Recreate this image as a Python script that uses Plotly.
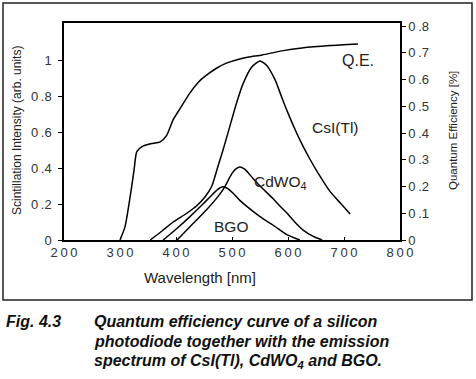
import plotly.graph_objects as go

# ---- data ----
qe_wl = [300, 309, 318, 325, 330, 340, 355, 372, 383, 395, 407, 425, 440, 455, 473, 491, 514, 530, 554, 589, 625, 675, 725]
qe_val = [0.0, 0.05, 0.16, 0.26, 0.33, 0.35, 0.36, 0.367, 0.39, 0.45, 0.49, 0.55, 0.59, 0.617, 0.643, 0.662, 0.677, 0.684, 0.692, 0.707, 0.718, 0.727, 0.733]

csi_wl = [354, 375, 395, 420, 437, 452, 464, 475, 484, 496, 508, 520, 535, 550, 562, 577, 588, 598, 616, 627, 639, 654, 675, 695, 711]
csi_val = [0.0, 0.05, 0.10, 0.15, 0.19, 0.24, 0.30, 0.41, 0.50, 0.63, 0.76, 0.87, 0.96, 0.995, 0.97, 0.89, 0.80, 0.72, 0.59, 0.52, 0.45, 0.37, 0.27, 0.20, 0.145]

bgo_wl = [377, 400, 425, 445, 461, 474, 482, 490, 502, 514, 527, 550, 577, 598, 621]
bgo_val = [0.0, 0.06, 0.13, 0.19, 0.24, 0.28, 0.295, 0.29, 0.26, 0.22, 0.185, 0.13, 0.075, 0.03, 0.0]

cdwo_wl = [402, 430, 455, 472, 484, 493, 500, 507, 514, 522, 530, 538, 547, 555, 573, 585, 598, 612, 627, 645, 661]
cdwo_val = [0.0, 0.09, 0.17, 0.23, 0.28, 0.33, 0.37, 0.395, 0.405, 0.395, 0.37, 0.34, 0.31, 0.285, 0.23, 0.19, 0.15, 0.10, 0.055, 0.02, 0.0]

x_ticks = [200, 300, 400, 500, 600, 700, 800]
x_ticktext = ["2\u20090\u20090", "3\u20090\u20090", "4\u20090\u20090", "5\u20090\u20090", "6\u20090\u20090", "7\u20090\u20090", "8\u20090\u20090"]
y_ticks = [0, 0.2, 0.4, 0.6, 0.8, 1.0]
y_ticktext = ["0", "0\u2009.2", "0\u2009.4", "0\u2009.6", "0\u2009.8", "1"]
y2_ticks = [0, 0.1, 0.2, 0.3, 0.4, 0.5, 0.6, 0.7, 0.8]
y2_ticktext = ["0", "0\u2009.1", "0\u2009.2", "0\u2009.3", "0\u2009.4", "0\u2009.5", "0\u2009.6", "0\u2009.7", "0\u2009.8"]

W, H = 476, 379
L, R, T, B = 64, 76, 23, 139
pw, ph = W - L - R, H - T - B

def px(xp):
    return (xp - L) / pw

def py(yp):
    return (H - B - yp) / ph

FONT = "Liberation Sans, Arial, sans-serif"
line = dict(color="black", width=1.5, shape="spline", smoothing=0.6)

fig = go.Figure()
fig.add_trace(go.Scatter(x=qe_wl, y=qe_val, yaxis="y2", mode="lines", line=line, name="Q.E.", showlegend=False))
fig.add_trace(go.Scatter(x=csi_wl, y=csi_val, mode="lines", line=line, name="CsI(Tl)", showlegend=False))
fig.add_trace(go.Scatter(x=cdwo_wl, y=cdwo_val, mode="lines", line=line, name="CdWO4", showlegend=False))
fig.add_trace(go.Scatter(x=bgo_wl, y=bgo_val, mode="lines", line=line, name="BGO", showlegend=False))

tickfont = dict(family=FONT, size=13, color="#333")
fig.update_layout(
    width=W, height=H,
    margin=dict(l=L, r=R, t=T, b=B),
    paper_bgcolor="white", plot_bgcolor="white",
    xaxis=dict(range=[200, 800], tickvals=x_ticks, ticktext=x_ticktext, ticks="inside", ticklen=3,
               tickcolor="black", showline=True, linecolor="black", linewidth=1.5, mirror=True,
               showgrid=False, zeroline=False, tickfont=tickfont),
    yaxis=dict(range=[0, 1.2056], tickvals=y_ticks, ticktext=y_ticktext, ticks="outside", ticklen=4,
               tickcolor="black", showline=True, linecolor="black", linewidth=1.5,
               showgrid=False, zeroline=False, tickfont=tickfont, ticklabelstandoff=4),
    yaxis2=dict(range=[0, 0.8112], tickvals=y2_ticks, ticktext=y2_ticktext, ticks="outside", ticklen=4,
                tickcolor="black", overlaying="y", side="right", showline=True, linecolor="black",
                linewidth=1.5, showgrid=False, zeroline=False, tickfont=tickfont),
    showlegend=False,
)

ann = []
def add(text, x, y, size=13, angle=0, xanchor="center", color="#222"):
    ann.append(dict(text=text, x=px(x), y=py(y), xref="paper", yref="paper", showarrow=False,
                    xanchor=xanchor, yanchor="middle", textangle=angle,
                    font=dict(family=FONT, size=size, color=color)))

add("Q.E.", 358, 60, size=16)
add("CsI(Tl)", 335, 127, size=15.5)
add("CdWO<sub>4</sub>", 280, 182, size=15.5)
add("BGO", 231, 226, size=15.5)
add("Wavelength [nm]", 200, 277, size=15)
add("Scintillation Intensity (arb. units)", 17, 131, size=12, angle=-90)
add("Quantum Efficiency [%]", 453, 131, size=11.5, angle=-90)
add("<b><i>Fig. 4.3</i></b>", 4, 321, size=16, xanchor="left", color="#111")
add("<b><i>Quantum efficiency curve of a silicon</i></b>", 92, 321, size=16, xanchor="left", color="#111")
add("<b><i>photodiode together with the emission</i></b>", 92, 341, size=16, xanchor="left", color="#111")
add("<b><i>spectrum of CsI(Tl), CdWO<sub>4</sub> and BGO.</i></b>", 92, 361, size=16, xanchor="left", color="#111")
fig.update_layout(annotations=ann)

fig.add_shape(type="rect", xref="paper", yref="paper", x0=px(3), x1=px(472), y0=py(300), y1=py(3),
              line=dict(color="#222", width=1.5))

fig.write_html("out.html", config={"displayModeBar": False},
               post_script="document.body.style.margin='0';")
